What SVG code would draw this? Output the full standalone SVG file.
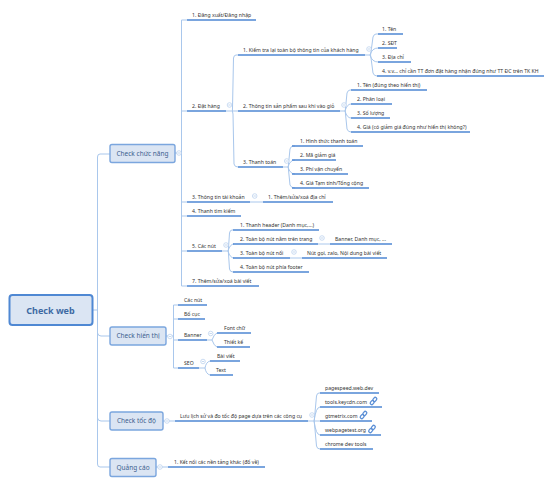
<svg xmlns="http://www.w3.org/2000/svg" width="553" height="485" viewBox="0 0 553 485">
<style>
text{font-family:"Noto Sans","Liberation Sans",sans-serif;font-size:5.15px;fill:#333}
.t{font-size:6.5px;fill:#3e5f8f;text-anchor:middle}
.r{font-size:9px;font-weight:700;fill:#3e6aa3;text-anchor:middle}
.c{fill:none;stroke:#a9c7ec;stroke-width:1}
.u{fill:none;stroke:#4f88d3;stroke-width:1.4}
.n{fill:#dbe5f3;stroke:#7ba6de;stroke-width:1.4}
.m{fill:#fff;stroke:#b5cdec;stroke-width:.7}
.l{fill:none;stroke:#5b8fd6;stroke-width:1.3}
</style>
<defs>
<g id="x"><circle class="m" r="2.3"/><path d="M-1.2 0H1.2" stroke="#a0bfe6" stroke-width=".6"/></g>
<g id="link"><rect class="l" x="-1.5" y="-4.2" width="3" height="4.4" rx="1.4" transform="rotate(40)"/><rect class="l" x="-1.5" y="-.2" width="3" height="4.4" rx="1.4" transform="rotate(40)"/></g>
</defs>
<g id="connectors">
<path class="c" d="M92 310H97.500M110 154H100Q97.500 154 97.500 157V464Q97.500 467 100 467H110M97.500 333Q98 336 101 336H110M97.500 418Q98 421 101 421H110"/>
<path class="c" d="M175 153H181.500M187 20H181.500V286H187M181.500 111H187M181.500 202H187M181.500 216H187M181.500 251H187"/>
<path class="c" d="M226 111H238M238 55H236Q234 55 233.500 58L232.500 108Q232 111 233 114L234 164Q234.500 167 238 167"/>
<path class="c" d="M365 55H370M378 34H376Q374 34 373 37L371 52Q370 55 371 58L373 73Q374 76 377 76M370 55Q372 48 378 48M370 55Q372 62 378 62"/>
<path class="c" d="M340 111H345M351 90H350Q348 90 347 93L345.500 108Q345 111 345.500 114L347 129Q348 132 351 132M345 111Q347 104 351 104M345 111Q347 118 351 118"/>
<path class="c" d="M283 167H288M295 146H293Q291 146 290 149L288.500 164Q288 167 288.500 170L290 185Q291 188 295 188M288 167Q290 160 295 160M288 167Q290 174 295 174"/>
<path class="c" d="M250 202H263M222 251H228M233 230H232Q230 230 229.500 233L228.500 248Q228 251 228.500 254L229.500 269Q230 272 233 272M228 251Q230 244 234 244M228 251Q230 258 234 258M318 244H330M290 258H302"/>
<path class="c" d="M166 336H173.500M178 305H173.500V368H178M173.500 319H178M173.500 340H178"/>
<path class="c" d="M207 340H212Q214 334 217 333M212 340Q214 346 217 347M199 368H205Q206 362 210 361M205 368Q206 374 210 375"/>
<path class="c" d="M163 421H175M156 467H168"/>
<path class="c" d="M308 421H314M320 393H319Q317 393 316.500 396L314.500 418Q314 421 314.500 424L316.500 446Q317 449 320 449M314 421Q316 407 320 407M314 421H320M314 421Q316 435 320 435"/>
</g>
<g id="underlines">
<path class="u" d="M187 20H256M187 111H226M238 55H365M238 111H340M238 167H283M378 34H403M378 48H397M378 62H411M377 76H544M351 90H427M351 104H392M351 118H390M351 132H470M292 146H363M292 160H336M292 174H348M292 188H369M187 202H250M263 202H333M187 216H241M187 251H222M233 230H319M233 244H318M233 258H290M233 272H309M330 244H392M302 258H387M187 286H259M178 305H207M178 319H205M178 340H207M217 333H251M217 347H250M178 368H199M210 361H240M210 375H233M175 421H308M320 393H379M320 407H382M320 421H372M320 435H381M320 449H373M168 467H265"/>
</g>
<g id="root"><rect x="9.500" y="295" width="83" height="30" rx="3" fill="#dbe5f3" stroke="#4f88d3" stroke-width="2"/><text class="r" x="50.500" y="314">Check web</text></g>
<g id="n1"><rect class="n" x="110" y="144.500" width="65" height="18" rx="2"/><text class="t" x="142.500" y="155.800">Check chức năng</text></g>
<g id="n2"><rect class="n" x="110" y="327" width="56" height="18" rx="2"/><text class="t" x="138" y="338.300">Check hiển thị</text></g>
<g id="n3"><rect class="n" x="110" y="412" width="53" height="18" rx="2"/><text class="t" x="136.500" y="423.300">Check tốc độ</text></g>
<g id="n4"><rect class="n" x="110" y="458.500" width="46" height="18" rx="2"/><text class="t" x="133" y="470">Quảng cáo</text></g>
<g id="toggles">
<use href="#x" x="179" y="153"/><use href="#x" x="229.500" y="105"/><use href="#x" x="369" y="49"/><use href="#x" x="344" y="105"/><use href="#x" x="286.700" y="161"/><use href="#x" x="254.700" y="196"/><use href="#x" x="226" y="245"/><use href="#x" x="322" y="238"/><use href="#x" x="294" y="252"/><use href="#x" x="170" y="336.500"/><use href="#x" x="210.700" y="333.500"/><use href="#x" x="203" y="361.500"/><use href="#x" x="167" y="421"/><use href="#x" x="312" y="415"/><use href="#x" x="160" y="467"/>
</g>
<g id="labels">
<text x="192" y="16.500">1. Đăng xuất/Đăng nhập</text>
<text x="192" y="107.500">2. Đặt hàng</text>
<text x="243" y="51.500">1. Kiểm tra lại toàn bộ thông tin của khách hàng</text>
<text x="243" y="107.500">2. Thông tin sản phẩm sau khi vào giỏ</text>
<text x="243" y="163.500">3. Thanh toán</text>
<text x="382" y="30.500">1. Tên</text>
<text x="382" y="44.500">2. SĐT</text>
<text x="382" y="58.500">3. Địa chỉ</text>
<text x="382" y="72.500">4. v.v... chỉ cần TT đơn đặt hàng nhận đúng như TT ĐC trên TK KH</text>
<text x="357" y="86.500">1. Tên (đúng theo hiển thị)</text>
<text x="357" y="100.500">2. Phân loại</text>
<text x="357" y="114.500">3. Số lượng</text>
<text x="357" y="128.500">4. Giá (có giảm giá đúng như hiển thị không?)</text>
<text x="300" y="142.500">1. Hình thức thanh toán</text>
<text x="300" y="156.500">2. Mã giảm giá</text>
<text x="300" y="170.500">3. Phí vận chuyển</text>
<text x="300" y="184.500">4. Giá Tạm tính/Tổng cộng</text>
<text x="192" y="198.500">3. Thông tin tài khoản</text>
<text x="268" y="198.500">1. Thêm/sửa/xoá địa chỉ</text>
<text x="192" y="212.500">4. Thanh tìm kiếm</text>
<text x="192" y="247.500">5. Các nút</text>
<text x="240" y="226.500">1. Thanh header (Danh mục,...)</text>
<text x="240" y="240.500">2. Toàn bộ nút nằm trên trang</text>
<text x="240" y="254.500">3. Toàn bộ nút nổi</text>
<text x="240" y="268.500">4. Toàn bộ nút phía footer</text>
<text x="335" y="240.500">Banner, Danh mục, ...</text>
<text x="307" y="254.500">Nút gọi, zalo, Nội dung bài viết</text>
<text x="192" y="282.500">7. Thêm/sửa/xoá bài viết</text>
<text x="184" y="301.500">Các nút</text>
<text x="184" y="315.500">Bố cục</text>
<text x="184" y="336.500">Banner</text>
<text x="224" y="329.500">Font chữ</text>
<text x="224" y="343.500">Thiết kế</text>
<text x="184" y="364.500">SEO</text>
<text x="217" y="357.500">Bài viết</text>
<text x="216" y="371.500">Text</text>
<text x="180" y="417.500">Lưu lịch sử và đo tốc độ page dựa trên các công cụ</text>
<text x="325" y="389.500">pagespeed.web.dev</text>
<text x="325" y="403.500">tools.keycdn.com</text>
<text x="325" y="417.500">gtmetrix.com</text>
<text x="325" y="431.500">webpagetest.org</text>
<text x="325" y="445.500">chrome dev tools</text>
<text x="174" y="463.500">1. Kết nối các nền tảng khác (đổ về)</text>
</g>
<g id="icons"><use href="#link" x="373.500" y="401"/><use href="#link" x="363.500" y="415"/><use href="#link" x="372" y="429"/></g>
</svg>
